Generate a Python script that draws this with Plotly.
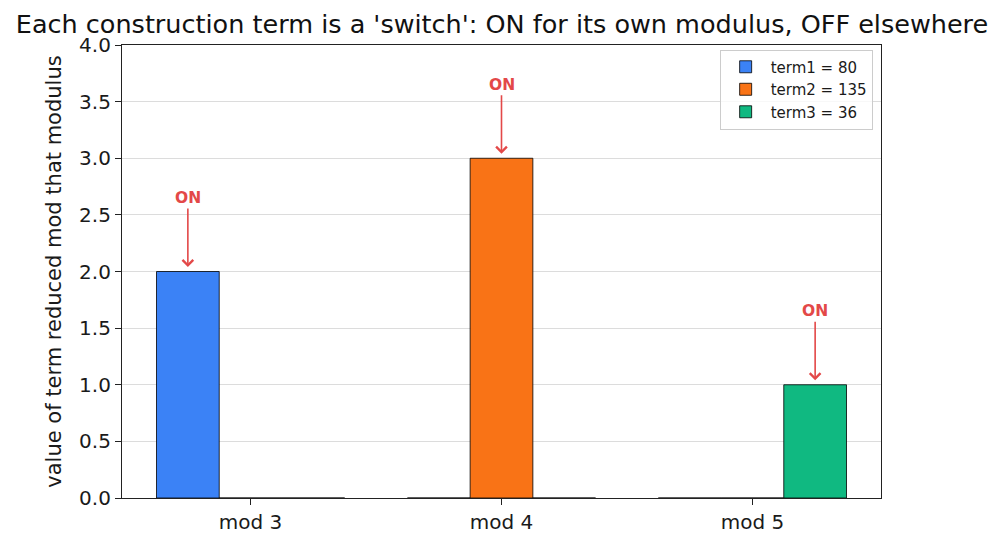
import plotly.graph_objects as go

categories = ["mod 3", "mod 4", "mod 5"]
term_names = ["term1 = 80", "term2 = 135", "term3 = 36"]
term1_vals = [2, 0, 0]
term2_vals = [0, 3, 0]
term3_vals = [0, 0, 1]
colors = ["#3b82f6", "#f97316", "#10b981"]
on_positions = [(0, 0, 2), (1, 1, 3), (2, 2, 1)]  # (category index, term index, value)
y_ticks = [0.0, 0.5, 1.0, 1.5, 2.0, 2.5, 3.0, 3.5, 4.0]

FONT = "DejaVu Sans"
series = [term1_vals, term2_vals, term3_vals]

fig = go.Figure()
for name, vals, c in zip(term_names, series, colors):
    fig.add_trace(go.Bar(x=categories, y=vals, name=name,
                         marker=dict(color=c, line=dict(color="black", width=0.8))))

bar_w = 0.25
red = "#e34848"
for ci, ti, v in on_positions:
    xpos = ci + (ti - 1) * bar_w
    fig.add_annotation(x=xpos, y=v + 0.04, ax=xpos, ay=v + 0.65,
                       xref="x", yref="y", axref="x", ayref="y",
                       text="<b>ON</b>", showarrow=True, arrowhead=4,
                       arrowsize=1.3, arrowwidth=1.6, arrowcolor=red, standoff=0,
                       font=dict(family=FONT, size=15.5, color=red))

fig.update_layout(
    width=1004, height=546,
    margin=dict(l=122, r=123, t=45, b=48),
    paper_bgcolor="white", plot_bgcolor="white",
    barmode="group", bargap=0.25, bargroupgap=0,
    font=dict(family=FONT, size=20, color="#1a1a1a"),
    title=dict(text="Each construction term is a 'switch': ON for its own modulus, OFF elsewhere",
               x=0.5, xanchor="center", y=0.956, yanchor="middle",
               font=dict(family=FONT, size=25.5, color="#111")),
    legend=dict(x=0.989, xanchor="right", y=0.99, yanchor="top",
                bgcolor="rgba(255,255,255,0.8)", bordercolor="#cccccc", borderwidth=1,
                font=dict(family=FONT, size=15, color="#1a1a1a"), tracegroupgap=0, itemwidth=40),
    showlegend=True,
)
fig.update_xaxes(range=[-0.5125, 2.5125], showline=True, linecolor="#222", linewidth=1.2,
                 mirror=True, ticks="outside", ticklen=6, tickcolor="#222",
                 tickfont=dict(size=20), showgrid=False, layer="above traces")
fig.update_yaxes(range=[0, 4], tickvals=y_ticks, ticktext=[f"{t:.1f}" for t in y_ticks],
                 showline=True, linecolor="#222", linewidth=1.2, mirror=True,
                 ticks="outside", ticklen=6, tickcolor="#222", tickfont=dict(size=20),
                 showgrid=True, gridcolor="#dcdcdc", gridwidth=0.8, layer="above traces",
                 zeroline=False,
                 title=dict(text="value of term reduced mod that modulus", font=dict(size=21), standoff=11))

fig.write_html("out.html")
